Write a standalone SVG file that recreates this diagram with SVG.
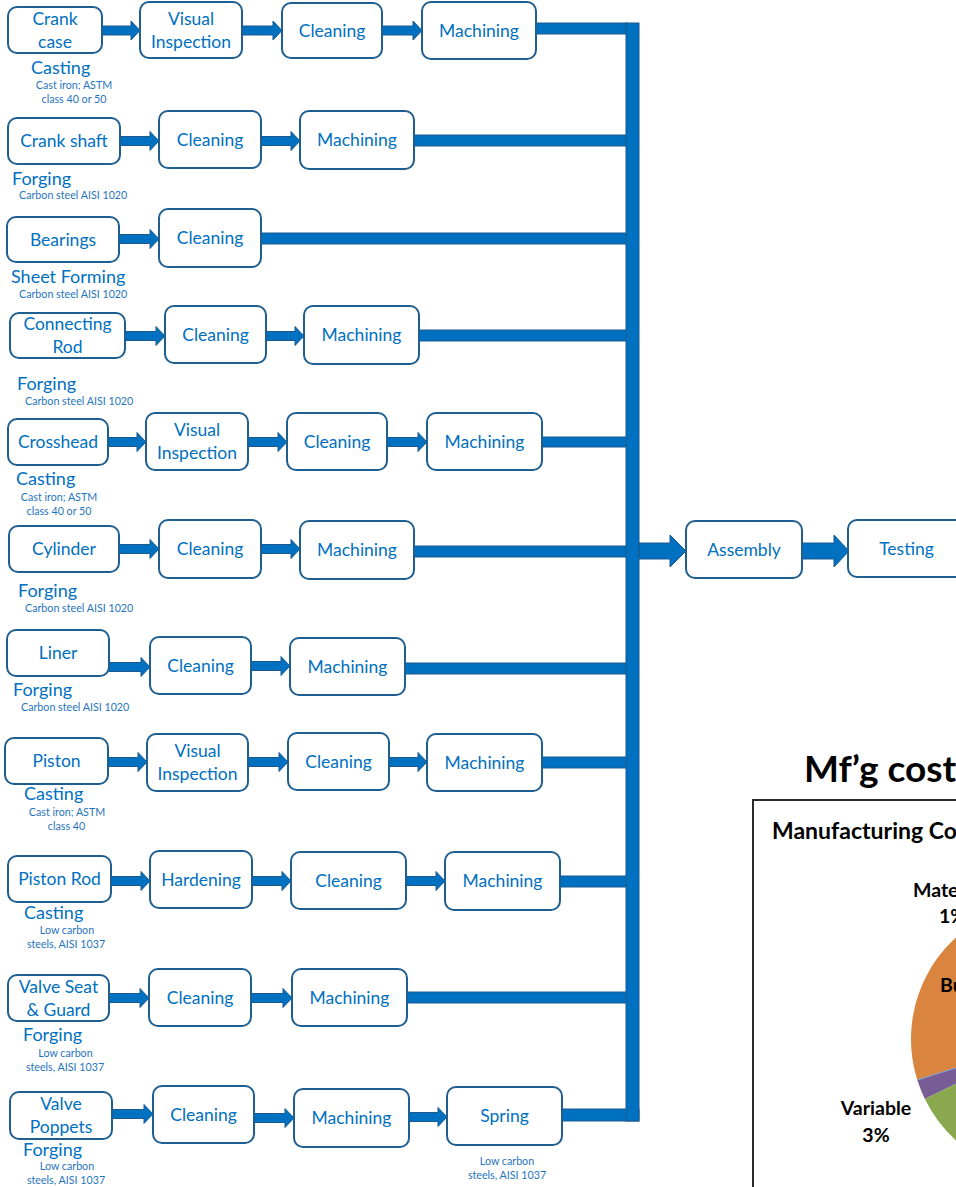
<svg xmlns="http://www.w3.org/2000/svg" width="956" height="1187" viewBox="0 0 956 1187">
<style>
.box{fill:#fff;stroke:#1F5E91;stroke-width:2}
.t{font-family:Lato,"Open Sans",sans-serif;font-size:17.5px;fill:#0070C0;text-anchor:middle}
.proc{font-family:Lato,"Open Sans",sans-serif;font-size:18px;fill:#0070C0}
.mat{font-family:Lato,"Open Sans",sans-serif;font-size:10.7px;fill:#1F74BE}
.mid{text-anchor:middle}
.bar{fill:#0070C0;stroke:#1A5A8F;stroke-width:1}
.arr{fill:#0070C0;stroke:#1A5A8F;stroke-width:1}
.b{font-family:Lato,"Open Sans",sans-serif;font-weight:bold;fill:#000}
</style>
<g id="connectors">
<rect class="bar" x="536" y="23" width="91" height="11"/>
<rect class="bar" x="414" y="135" width="213" height="11"/>
<rect class="bar" x="261" y="233" width="366" height="11"/>
<rect class="bar" x="419" y="330" width="208" height="11"/>
<rect class="bar" x="542" y="437" width="85" height="10"/>
<rect class="bar" x="414" y="546" width="213" height="11"/>
<rect class="bar" x="405" y="663" width="222" height="11"/>
<rect class="bar" x="542" y="757" width="85" height="11"/>
<rect class="bar" x="560" y="876" width="67" height="11"/>
<rect class="bar" x="407" y="992" width="220" height="11"/>
<rect class="bar" x="562" y="1109" width="77" height="12"/>
<rect class="bar" x="626" y="23" width="13" height="1098"/>
<polygon class="arr" points="639,543 670,543 670,535 686,551 670,567 670,559 639,559"/>
<polygon class="arr" points="802,543 834,543 834,535 849,551 834,567 834,559 802,559"/>
<polygon class="arr" points="102,26 131,26 131,21 140,30.5 131,40 131,35 102,35"/>
<polygon class="arr" points="242,26 273,26 273,21 282,30.5 273,40 273,35 242,35"/>
<polygon class="arr" points="382,26 413,26 413,21 422,30.5 413,40 413,35 382,35"/>
<polygon class="arr" points="120,136.5 150,136.5 150,131.5 159,141 150,150.5 150,145.5 120,145.5"/>
<polygon class="arr" points="261,136.5 291,136.5 291,131.5 300,141 291,150.5 291,145.5 261,145.5"/>
<polygon class="arr" points="119,234.5 150,234.5 150,229.5 159,239 150,248.5 150,243.5 119,243.5"/>
<polygon class="arr" points="125,331.5 156,331.5 156,326.5 165,336 156,345.5 156,340.5 125,340.5"/>
<polygon class="arr" points="266,331.5 295,331.5 295,326.5 304,336 295,345.5 295,340.5 266,340.5"/>
<polygon class="arr" points="108,437.5 137,437.5 137,432.5 146,442 137,451.5 137,446.5 108,446.5"/>
<polygon class="arr" points="248,437.5 278,437.5 278,432.5 287,442 278,451.5 278,446.5 248,446.5"/>
<polygon class="arr" points="387,437.5 418,437.5 418,432.5 427,442 418,451.5 418,446.5 387,446.5"/>
<polygon class="arr" points="119,544.5 150,544.5 150,539.5 159,549 150,558.5 150,553.5 119,553.5"/>
<polygon class="arr" points="261,544.5 291,544.5 291,539.5 300,549 291,558.5 291,553.5 261,553.5"/>
<polygon class="arr" points="109,662.5 141,662.5 141,657.5 150,667 141,676.5 141,671.5 109,671.5"/>
<polygon class="arr" points="251,661.5 281,661.5 281,656.5 290,666 281,675.5 281,670.5 251,670.5"/>
<polygon class="arr" points="108,757.5 138,757.5 138,752.5 147,762 138,771.5 138,766.5 108,766.5"/>
<polygon class="arr" points="248,757.5 279,757.5 279,752.5 288,762 279,771.5 279,766.5 248,766.5"/>
<polygon class="arr" points="389,757.5 418,757.5 418,752.5 427,762 418,771.5 418,766.5 389,766.5"/>
<polygon class="arr" points="111,876.5 141,876.5 141,871.5 150,881 141,890.5 141,885.5 111,885.5"/>
<polygon class="arr" points="252,876.5 282,876.5 282,871.5 291,881 282,890.5 282,885.5 252,885.5"/>
<polygon class="arr" points="406,876.5 436,876.5 436,871.5 445,881 436,890.5 436,885.5 406,885.5"/>
<polygon class="arr" points="109,993.5 140,993.5 140,988.5 149,998 140,1007.5 140,1002.5 109,1002.5"/>
<polygon class="arr" points="251,993.5 283,993.5 283,988.5 292,998 283,1007.5 283,1002.5 251,1002.5"/>
<polygon class="arr" points="112,1109.5 144,1109.5 144,1104.5 153,1114 144,1123.5 144,1118.5 112,1118.5"/>
<polygon class="arr" points="254,1113.5 285,1113.5 285,1108.5 294,1118 285,1127.5 285,1122.5 254,1122.5"/>
<polygon class="arr" points="409,1112.5 438,1112.5 438,1107.5 447,1117 438,1126.5 438,1121.5 409,1121.5"/>
</g>
<g id="crank-case"><rect class="box" x="8" y="7" width="94" height="46" rx="9"/><text class="t" x="55" y="24.5">Crank</text><text class="t" x="55" y="47.5">case</text></g>
<g id="r1-visual"><rect class="box" x="140" y="2" width="102" height="56" rx="9"/><text class="t" x="191" y="24.5">Visual</text><text class="t" x="191" y="47.5">Inspection</text></g>
<g id="r1-cleaning"><rect class="box" x="282" y="3" width="100" height="55" rx="9"/><text class="t" x="332" y="36.5">Cleaning</text></g>
<g id="r1-machining"><rect class="box" x="422" y="2" width="114" height="57" rx="9"/><text class="t" x="479" y="36.5">Machining</text></g>
<g id="crank-shaft"><rect class="box" x="8" y="118" width="112" height="46" rx="9"/><text class="t" x="64" y="147">Crank shaft</text></g>
<g id="r2-cleaning"><rect class="box" x="159" y="111" width="102" height="57" rx="9"/><text class="t" x="210" y="145.5">Cleaning</text></g>
<g id="r2-machining"><rect class="box" x="300" y="111" width="114" height="58" rx="9"/><text class="t" x="357" y="146">Machining</text></g>
<g id="bearings"><rect class="box" x="7" y="217" width="112" height="45" rx="9"/><text class="t" x="63" y="245.5">Bearings</text></g>
<g id="r3-cleaning"><rect class="box" x="159" y="209" width="102" height="58" rx="9"/><text class="t" x="210" y="244">Cleaning</text></g>
<g id="connecting-rod"><rect class="box" x="10" y="313" width="115" height="45" rx="9"/><text class="t" x="67.5" y="330">Connecting</text><text class="t" x="67.5" y="353">Rod</text></g>
<g id="r4-cleaning"><rect class="box" x="165" y="306" width="101" height="57" rx="9"/><text class="t" x="215.5" y="340.5">Cleaning</text></g>
<g id="r4-machining"><rect class="box" x="304" y="306" width="115" height="58" rx="9"/><text class="t" x="361.5" y="341">Machining</text></g>
<g id="crosshead"><rect class="box" x="8" y="419" width="100" height="46" rx="9"/><text class="t" x="58" y="448">Crosshead</text></g>
<g id="r5-visual"><rect class="box" x="146" y="413" width="102" height="57" rx="9"/><text class="t" x="197" y="436">Visual</text><text class="t" x="197" y="459">Inspection</text></g>
<g id="r5-cleaning"><rect class="box" x="287" y="413" width="100" height="57" rx="9"/><text class="t" x="337" y="447.5">Cleaning</text></g>
<g id="r5-machining"><rect class="box" x="427" y="413" width="115" height="57" rx="9"/><text class="t" x="484.5" y="447.5">Machining</text></g>
<g id="cylinder"><rect class="box" x="9" y="526" width="110" height="46" rx="9"/><text class="t" x="64" y="555">Cylinder</text></g>
<g id="r6-cleaning"><rect class="box" x="159" y="520" width="102" height="58" rx="9"/><text class="t" x="210" y="555">Cleaning</text></g>
<g id="r6-machining"><rect class="box" x="300" y="521" width="114" height="58" rx="9"/><text class="t" x="357" y="556">Machining</text></g>
<g id="liner"><rect class="box" x="7" y="630" width="102" height="46" rx="9"/><text class="t" x="58" y="659">Liner</text></g>
<g id="r7-cleaning"><rect class="box" x="150" y="637" width="101" height="57" rx="9"/><text class="t" x="200.5" y="671.5">Cleaning</text></g>
<g id="r7-machining"><rect class="box" x="290" y="638" width="115" height="57" rx="9"/><text class="t" x="347.5" y="672.5">Machining</text></g>
<g id="piston"><rect class="box" x="5" y="738" width="103" height="46" rx="9"/><text class="t" x="56.5" y="767">Piston</text></g>
<g id="r8-visual"><rect class="box" x="147" y="734" width="101" height="57" rx="9"/><text class="t" x="197.5" y="757">Visual</text><text class="t" x="197.5" y="780">Inspection</text></g>
<g id="r8-cleaning"><rect class="box" x="288" y="733" width="101" height="57" rx="9"/><text class="t" x="338.5" y="767.5">Cleaning</text></g>
<g id="r8-machining"><rect class="box" x="427" y="734" width="115" height="57" rx="9"/><text class="t" x="484.5" y="768.5">Machining</text></g>
<g id="piston-rod"><rect class="box" x="8" y="856" width="103" height="46" rx="9"/><text class="t" x="59.5" y="885">Piston Rod</text></g>
<g id="r9-hardening"><rect class="box" x="150" y="851" width="102" height="57" rx="9"/><text class="t" x="201" y="885.5">Hardening</text></g>
<g id="r9-cleaning"><rect class="box" x="291" y="852" width="115" height="57" rx="9"/><text class="t" x="348.5" y="886.5">Cleaning</text></g>
<g id="r9-machining"><rect class="box" x="445" y="852" width="115" height="58" rx="9"/><text class="t" x="502.5" y="887">Machining</text></g>
<g id="valve-seat"><rect class="box" x="8" y="975" width="101" height="46" rx="9"/><text class="t" x="58.5" y="992.5">Valve Seat</text><text class="t" x="58.5" y="1015.5">&amp; Guard</text></g>
<g id="r10-cleaning"><rect class="box" x="149" y="969" width="102" height="57" rx="9"/><text class="t" x="200" y="1003.5">Cleaning</text></g>
<g id="r10-machining"><rect class="box" x="292" y="969" width="115" height="57" rx="9"/><text class="t" x="349.5" y="1003.5">Machining</text></g>
<g id="valve-poppets"><rect class="box" x="10" y="1092" width="102" height="47" rx="9"/><text class="t" x="61" y="1110">Valve</text><text class="t" x="61" y="1133">Poppets</text></g>
<g id="r11-cleaning"><rect class="box" x="153" y="1086" width="101" height="57" rx="9"/><text class="t" x="203.5" y="1120.5">Cleaning</text></g>
<g id="r11-machining"><rect class="box" x="294" y="1089" width="115" height="58" rx="9"/><text class="t" x="351.5" y="1124">Machining</text></g>
<g id="r11-spring"><rect class="box" x="447" y="1087" width="115" height="58" rx="9"/><text class="t" x="504.5" y="1122">Spring</text></g>
<g id="assembly"><rect class="box" x="686" y="521" width="116" height="57" rx="9"/><text class="t" x="744" y="555.5">Assembly</text></g>
<g id="testing"><rect class="box" x="848" y="520" width="117" height="57" rx="9"/><text class="t" x="906.5" y="554.5">Testing</text></g>
<g id="labels">
<text class="proc" x="31" y="74">Casting</text>
<text class="mat mid" x="74" y="89">Cast iron; ASTM</text>
<text class="mat mid" x="74" y="103">class 40 or 50</text>
<text class="proc" x="12" y="185">Forging</text>
<text class="mat" x="19" y="199">Carbon steel AISI 1020</text>
<text class="proc" x="11" y="283">Sheet Forming</text>
<text class="mat" x="19" y="298">Carbon steel AISI 1020</text>
<text class="proc" x="17" y="390">Forging</text>
<text class="mat" x="25" y="405">Carbon steel AISI 1020</text>
<text class="proc" x="16" y="485">Casting</text>
<text class="mat mid" x="59" y="501">Cast iron; ASTM</text>
<text class="mat mid" x="59" y="515">class 40 or 50</text>
<text class="proc" x="18" y="597">Forging</text>
<text class="mat" x="25" y="612">Carbon steel AISI 1020</text>
<text class="proc" x="13" y="696">Forging</text>
<text class="mat" x="21" y="711">Carbon steel AISI 1020</text>
<text class="proc" x="24" y="800">Casting</text>
<text class="mat mid" x="67" y="816">Cast iron; ASTM</text>
<text class="mat mid" x="66.5" y="830">class 40</text>
<text class="proc" x="24" y="919">Casting</text>
<text class="mat mid" x="67" y="934">Low carbon</text>
<text class="mat mid" x="66" y="948">steels, AISI 1037</text>
<text class="proc" x="23" y="1041">Forging</text>
<text class="mat mid" x="65.5" y="1057">Low carbon</text>
<text class="mat mid" x="65" y="1071">steels, AISI 1037</text>
<text class="proc" x="23" y="1156">Forging</text>
<text class="mat mid" x="67" y="1170">Low carbon</text>
<text class="mat mid" x="66" y="1184">steels, AISI 1037</text>
<text class="mat mid" x="507" y="1165">Low carbon</text>
<text class="mat mid" x="507" y="1179">steels, AISI 1037</text>
</g>
<g id="cost-chart">
<text class="b" x="804" y="782" font-size="37">Mf’g cost</text>
<rect x="753" y="800" width="220" height="400" fill="none" stroke="#2b2b2b" stroke-width="2"/>
<text class="b" x="772" y="839" font-size="23">Manufacturing Co</text>
<path d="M1048,1039 L917.3,1080 A137,137 0 0,1 1043.2,902.1 Z" fill="#D9843F"/>
<path d="M1048,1039 L924.9,1099 A137,137 0 0,1 917.3,1080 Z" fill="#775C95"/>
<path d="M1048,1039 L1024.2,1173.9 A137,137 0 0,1 924.9,1099 Z" fill="#8AA84E"/>
<line x1="1048" y1="1039" x2="917.3" y2="1080" stroke="#7FA6D6" stroke-width="1"/>
<text class="b" x="913" y="897" font-size="19.5">Mate</text>
<text class="b" x="939" y="923" font-size="19.5">1%</text>
<text class="b" x="940" y="992" font-size="19.5">Bu</text>
<text class="b mid" x="876" y="1115" font-size="19.5">Variable</text>
<text class="b mid" x="876" y="1142" font-size="19.5">3%</text>
</g>
</svg>
